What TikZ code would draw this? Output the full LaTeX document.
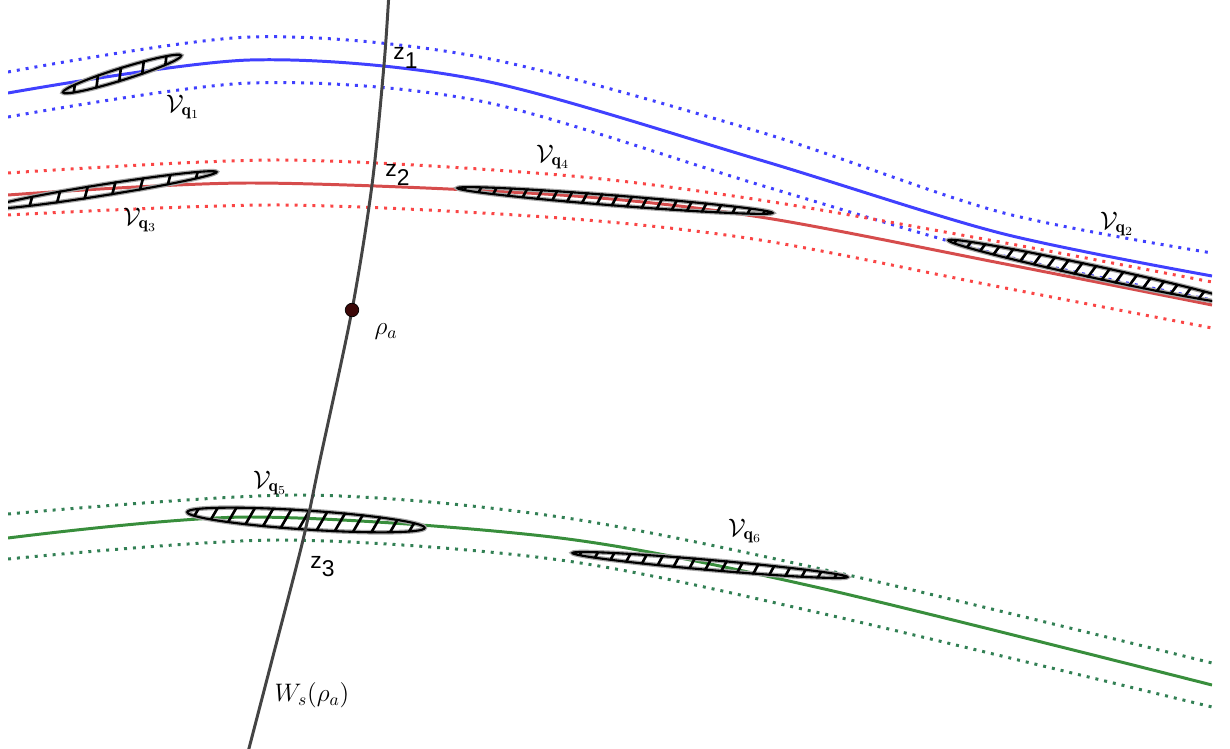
\documentclass[tikz,border=0pt]{standalone}
\usepackage{fontspec}
\setsansfont{Liberation Sans}

\definecolor{leafblue}{RGB}{64,64,255}
\definecolor{leafred}{RGB}{214,76,76}
\definecolor{dotred}{RGB}{250,70,70}
\definecolor{leafgreen}{RGB}{56,142,60}
\definecolor{dotgreen}{RGB}{50,128,84}
\definecolor{manifold}{RGB}{68,68,68}
\definecolor{pointcol}{RGB}{60,8,8}

\tikzset{
  leaf/.style={line width=1.7pt},
  dotleaf/.style={line width=1.7pt, dash pattern=on 1.7pt off 3.4pt},
  zlabel/.style={font=\sffamily\fontsize{13}{15}\selectfont, inner sep=0, anchor=base west},
  vlabel/.style={font=\Large, inner sep=0},
}

% hatched thin ellipse: centre x, centre y, angle, half length, half width, hatch step
\newcommand{\hatchell}[6]{%
  \begin{scope}[shift={(#1,#2)}, rotate=#3]
    \draw[black!35, line width=2.6pt] (0,0) ellipse ({#4} and {#5});
    \draw[black, line width=1.2pt] (0,0) ellipse ({#4} and {#5});
    \begin{scope}
      \clip (0,0) ellipse ({#4} and {#5+1});
      \pgfmathtruncatemacro\nhatch{2*#4/#6}
      \foreach \k in {0,...,\nhatch}
        \draw[line width=1.5pt] ({-#4+(\k+0.5)*#6-0.6*#5},{#5+2}) -- ({-#4+(\k+0.5)*#6+0.6*#5},{-#5-2});
    \end{scope}
  \end{scope}}

\begin{document}
\begin{tikzpicture}[x=0.02cm, y=-0.02cm]
  \useasboundingbox (0,0) rectangle (1230,749);

  \begin{scope}
    \clip (8,0) rectangle (1212,749);

    % blue leaf
    \draw[dotleaf, leafblue] plot[smooth] coordinates {(8,72) (250,37) (480,57) (760,132) (1000,212) (1212,253)};
    \draw[leaf, leafblue] plot[smooth] coordinates {(8,93) (250,60) (480,80) (760,160) (1000,233) (1212,276)};
    \draw[dotleaf, leafblue] plot[smooth] coordinates {(8,117) (250,83) (480,101) (760,185) (1000,255) (1212,300)};

    % red leaf
    \draw[dotleaf, dotred] plot[smooth] coordinates {(8,173) (280,160) (560,175) (760,200) (1000,242) (1212,282)};
    \draw[leaf, leafred] plot[smooth] coordinates {(8,195) (250,183) (560,195) (760,217) (1000,263) (1212,305)};
    \draw[dotleaf, dotred] plot[smooth] coordinates {(8,215) (280,205) (560,218) (760,240) (1000,287) (1212,328)};

    % green leaf
    \draw[dotleaf, dotgreen] plot[smooth] coordinates {(8,514) (300,495) (560,517) (848,575) (1212,663)};
    \draw[leaf, leafgreen] plot[smooth] coordinates {(8,538) (250,517) (560,538) (820,588) (1212,685)};
    \draw[dotleaf, dotgreen] plot[smooth] coordinates {(8,559) (280,540) (560,560) (820,613) (1212,707)};

    % hatched sets
    \hatchell{122}{74}{17.3}{62}{6}{24}
    \hatchell{103}{190}{9}{115}{5.5}{28}
    \hatchell{615}{200.5}{-4.5}{158}{5}{15}
    \hatchell{1095}{272}{-12.2}{150}{6}{14}
    \hatchell{306}{520}{-3.8}{119}{9.5}{18}
    \hatchell{710}{565}{-5}{138}{5}{16}

    % stable manifold
    \draw[leaf, manifold] plot[smooth] coordinates {(389,-8) (384,65) (372,185) (352,310) (320,460) (303,540) (272,660) (247,756)};
  \end{scope}

  \node[circle, draw=black, fill=pointcol, inner sep=0, minimum size=0.27cm] (rhoa) at (352,310) {};

  \node[zlabel] (z1) at (393,60) {z\raisebox{-0.38em}{1}};
  \node[zlabel] (z2) at (385,177) {z\raisebox{-0.38em}{2}};
  \node[zlabel] (z3) at (310,568) {z\raisebox{-0.38em}{3}};

  \node[vlabel] (vq1) at (183,107) {$\mathcal{V}_{\mathbf{q}_1}$};
  \node[vlabel] (vq2) at (1117,224) {$\mathcal{V}_{\mathbf{q}_2}$};
  \node[vlabel] (vq3) at (140,220) {$\mathcal{V}_{\mathbf{q}_3}$};
  \node[vlabel] (vq4) at (553,157) {$\mathcal{V}_{\mathbf{q}_4}$};
  \node[vlabel] (vq5) at (270,483) {$\mathcal{V}_{\mathbf{q}_5}$};
  \node[vlabel] (vq6) at (745,531) {$\mathcal{V}_{\mathbf{q}_6}$};
  \node[vlabel] (rholabel) at (386,332) {$\rho_a$};
  \node[vlabel] (wslabel) at (312,695) {$W_s(\rho_a)$};
\end{tikzpicture}
\end{document}
